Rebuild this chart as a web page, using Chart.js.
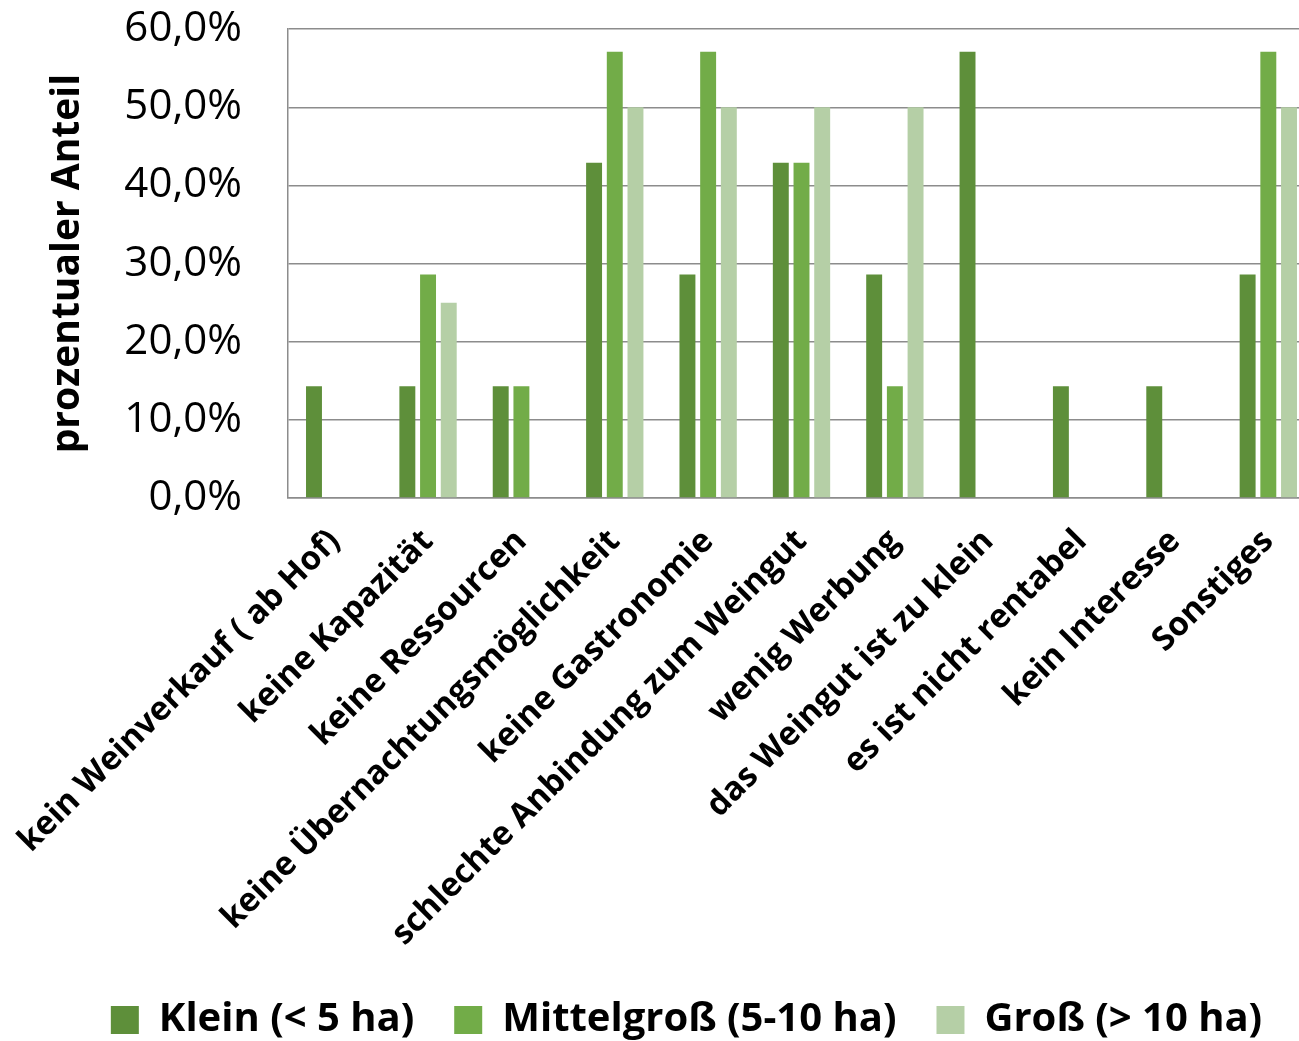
<!DOCTYPE html>
<html lang="de">
<head>
<meta charset="utf-8">
<title>Gründe gegen Weintourismus nach Betriebsgröße</title>
<script src="https://cdn.jsdelivr.net/npm/chart.js@4/dist/chart.umd.min.js"></script>
<style>
  html, body { margin: 0; padding: 0; background: #fff; overflow: hidden; }
  #wrap { position: relative; width: 1315px; height: 1041px; }
</style>
</head>
<body>
<div id="wrap"><canvas id="chart"></canvas></div>
<script>
// Antwortkategorien (x-Achse)
const categories = [
  'kein Weinverkauf ( ab Hof)',
  'keine Kapazität',
  'keine Ressourcen',
  'keine Übernachtungsmöglichkeit',
  'keine Gastronomie',
  'schlechte Anbindung zum Weingut',
  'wenig Werbung',
  'das Weingut ist zu klein',
  'es ist nicht rentabel',
  'kein Interesse',
  'Sonstiges'
];

// Anteile in Prozent je Betriebsgröße
const klein  = [14.3, 14.3, 14.3, 42.9, 28.6, 42.9, 28.6, 57.1, 14.3, 14.3, 28.6];
const mittel = [0, 28.6, 14.3, 57.1, 57.1, 42.9, 14.3, 0, 0, 0, 57.1];
const gross  = [0, 25.0, 0, 50.0, 50.0, 50.0, 50.0, 0, 0, 0, 50.0];

const seriesNames = ['Klein (< 5 ha)', 'Mittelgroß (5-10 ha)', 'Groß (> 10 ha)'];

// Achse 0 % bis 60 % in 10er-Schritten
const yMin = 0, yMax = 60, yStep = 10;
const yTitle = 'prozentualer Anteil';

const fmtPct = v => v.toFixed(1).replace('.', ',') + '%';

// Legende etwas nach rechts und unten versetzen
const legendShift = {
  id: 'legendShift',
  afterLayout(chart) {
    const lg = chart.legend;
    if (lg) {
      lg.left += 29; lg.right += 29;
      lg.top += 9; lg.bottom += 9;
    }
  }
};

const gridColor = '#8c8c8c';

new Chart(document.getElementById('chart'), {
  type: 'bar',
  data: {
    labels: categories,
    datasets: [
      { label: seriesNames[0], data: klein,  backgroundColor: '#5e8f3a' },
      { label: seriesNames[1], data: mittel, backgroundColor: '#72ac48' },
      { label: seriesNames[2], data: gross,  backgroundColor: '#b5cfa6' }
    ]
  },
  options: {
    responsive: true,
    maintainAspectRatio: false,
    animation: false,
    layout: { padding: 0 },
    datasets: {
      bar: { barPercentage: 0.77, categoryPercentage: 0.665 }
    },
    plugins: {
      tooltip: { enabled: false },
      legend: {
        position: 'bottom',
        labels: {
          color: '#000',
          boxWidth: 28,
          boxHeight: 28,
          padding: 40,
          font: { family: 'Open Sans', weight: 'bold', size: 40 }
        }
      }
    },
    scales: {
      x: {
        grid: { display: false },
        border: { display: true, color: gridColor, width: 1.5 },
        ticks: {
          color: '#000',
          minRotation: 45,
          maxRotation: 45,
          autoSkip: false,
          padding: 16,
          font: { family: 'Open Sans', weight: 'bold', size: 33 }
        },
        afterFit(scale) {
          scale.height = 453;
          scale.paddingLeft = 0;
          scale.paddingRight = 0;
        }
      },
      y: {
        min: yMin,
        max: yMax,
        grid: {
          color: gridColor,
          lineWidth: 1.5,
          drawTicks: true,
          tickLength: 42,
          tickColor: 'rgba(0,0,0,0)'
        },
        border: { display: true, color: gridColor, width: 1.5 },
        ticks: {
          stepSize: yStep,
          color: '#000',
          padding: 4,
          font: { family: 'Open Sans', size: 42 },
          callback: v => fmtPct(v)
        },
        title: {
          display: true,
          text: yTitle,
          color: '#000',
          padding: { top: 44, bottom: 0 },
          font: { family: 'Open Sans', weight: 'bold', size: 39 }
        },
        afterFit(scale) { scale.width = 288; }
      }
    }
  },
  plugins: [legendShift]
});
</script>
</body>
</html>
